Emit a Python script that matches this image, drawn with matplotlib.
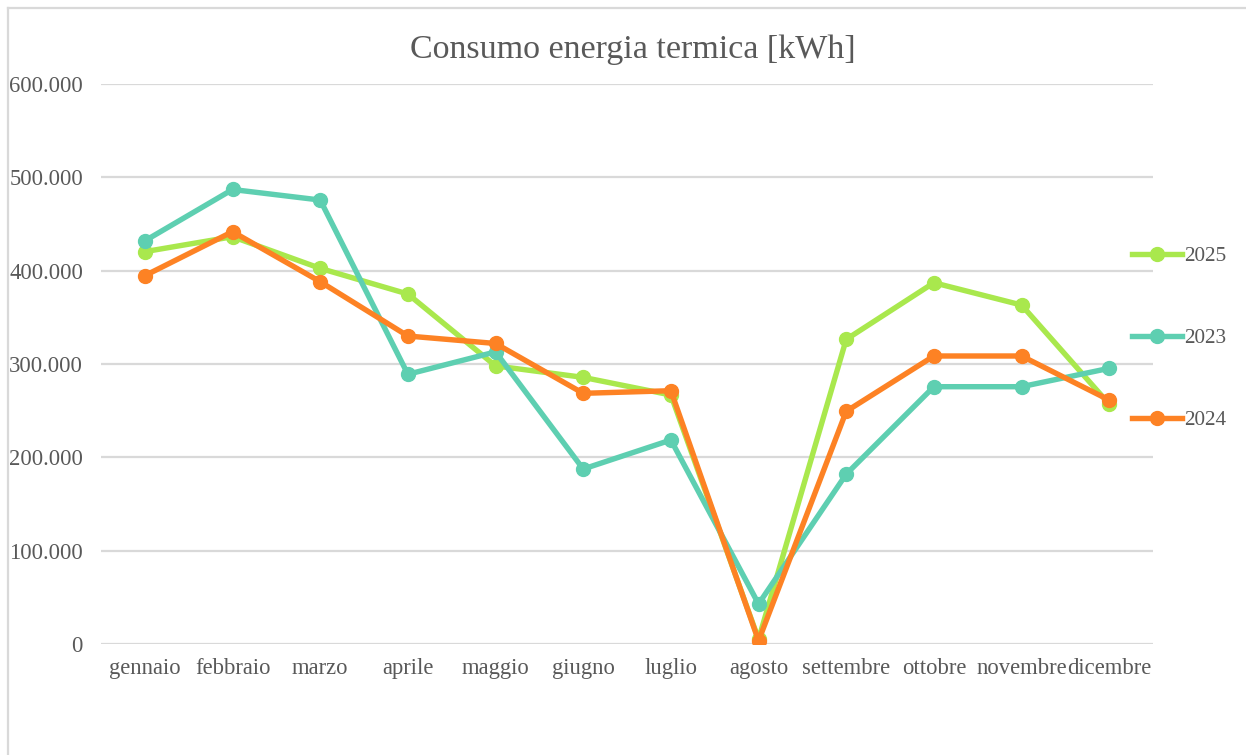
import matplotlib
matplotlib.use("Agg")
import matplotlib.pyplot as plt
from matplotlib.lines import Line2D
from matplotlib.ticker import FuncFormatter

months = ["gennaio", "febbraio", "marzo", "aprile", "maggio", "giugno",
          "luglio", "agosto", "settembre", "ottobre", "novembre", "dicembre"]
s2025 = [420400, 436400, 402500, 375000, 298000, 285700, 266800, 5000,
         326400, 387100, 363200, 257000]
s2023 = [432000, 487000, 475700, 289000, 313000, 187500, 218600, 42900,
         182000, 275700, 275700, 295400]
s2024 = [394700, 441800, 388200, 330000, 322000, 268600, 271400, 3500,
         249300, 308600, 308600, 261400]
series = [("2025", s2025, "#a9e84d"), ("2023", s2023, "#5ecfb1"), ("2024", s2024, "#fd8224")]
yticks = [0, 100000, 200000, 300000, 400000, 500000, 600000]

plt.rcParams["font.family"] = ["Liberation Serif", "DejaVu Serif"]
text_color = "#595959"
grid_color = "#d9d9d9"
fs = 16.3
lfs = 15.3

fig = plt.figure(figsize=(12.46, 7.55), dpi=100)
ax = fig.add_axes([0.0811, 0.147, 0.8443, 0.7417])

x = list(range(len(months)))
for name, vals, col in series:
    ax.plot(x, vals, color=col, lw=3.9, marker="o", ms=10, label=name,
            solid_capstyle="round", solid_joinstyle="round", zorder=3)

ax.set_xlim(-0.5, len(months) - 0.5)
ax.set_ylim(0, 600000)
ax.set_yticks(yticks)
ax.yaxis.set_major_formatter(FuncFormatter(lambda v, p: f"{int(v):,}".replace(",", ".")))
ax.set_xticks(x)
ax.set_xticklabels(months)
ax.grid(axis="y", color=grid_color, lw=1.6, zorder=0)
ax.tick_params(axis="both", length=0, labelsize=fs, colors=text_color)
ax.tick_params(axis="y", pad=13)
ax.tick_params(axis="x", pad=10)
for sp in ax.spines.values():
    sp.set_visible(False)

fig.text(0.5075, 0.934, "Consumo energia termica [kWh]", ha="center", va="center",
         fontsize=24.5, color=text_color)

handles = [Line2D([], [], color=c, lw=3.9, marker="o", ms=10) for _, _, c in series]
leg = fig.legend(handles, [n for n, _, _ in series], loc="upper left",
                 bbox_to_anchor=(0.9001, 0.6875), frameon=False, fontsize=lfs,
                 labelspacing=2.92, handlelength=2.35, handletextpad=0.1,
                 labelcolor=text_color, borderpad=0)

# outer chart frame (left and top edges visible)
fig.add_artist(Line2D([8 / 1246, 8 / 1246], [0, 1 - 8 / 755], transform=fig.transFigure,
                      color=grid_color, lw=1.6))
fig.add_artist(Line2D([8 / 1246, 1], [1 - 8 / 755, 1 - 8 / 755], transform=fig.transFigure,
                      color=grid_color, lw=1.6))

fig.savefig("out.png", dpi=100, facecolor="white")
